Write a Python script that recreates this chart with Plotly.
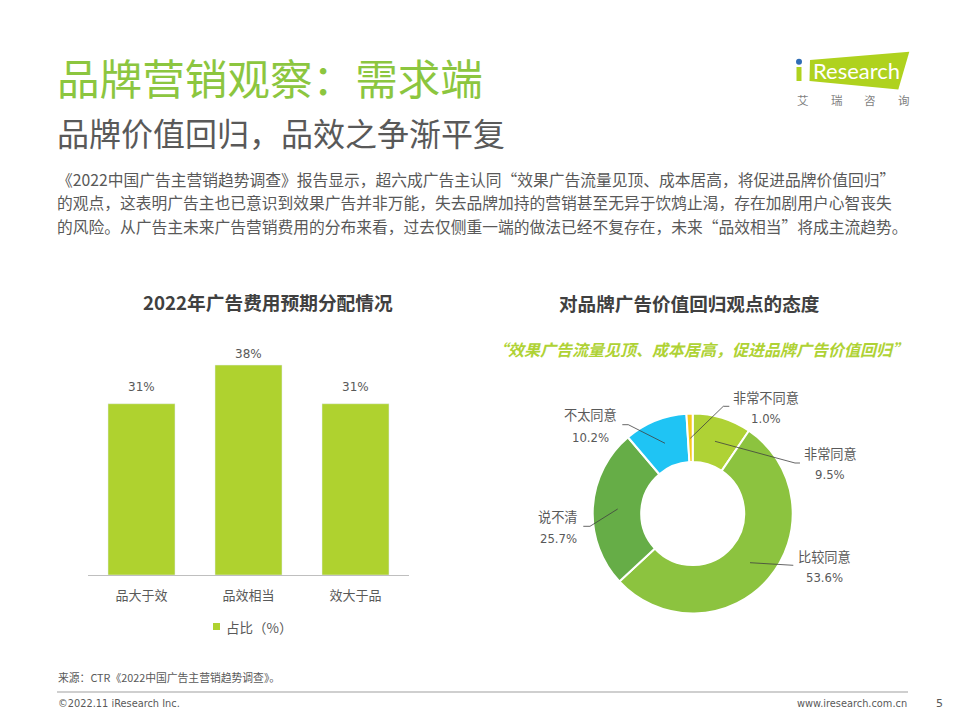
import plotly.graph_objects as go

FONT = "'DejaVu Sans','Noto Sans CJK SC',sans-serif"
CJK = "'Noto Sans CJK SC',sans-serif"
W, H = 960, 720

bar_categories = ["品大于效", "品效相当", "效大于品"]
bar_values = [31, 38, 31]
bar_series = "占比（%）"

pie_labels = ["非常同意", "比较同意", "说不清", "不太同意", "非常不同意"]
pie_values = [9.5, 53.6, 25.7, 10.2, 1.0]
pie_colors = ["#AFD235", "#8CC33F", "#66AD47", "#1FC4F4", "#F5C81E"]

title = "品牌营销观察：需求端"
subtitle = "品牌价值回归，品效之争渐平复"
body_lines = [
    "《2022中国广告主营销趋势调查》报告显示，超六成广告主认同“效果广告流量见顶、成本居高，将促进品牌价值回归”",
    "的观点，这表明广告主也已意识到效果广告并非万能，失去品牌加持的营销甚至无异于饮鸩止渴，存在加剧用户心智丧失",
    "的风险。从广告主未来广告营销费用的分布来看，过去仅侧重一端的做法已经不复存在，未来“品效相当”将成主流趋势。",
]
bar_title = "2022年广告费用预期分配情况"
pie_title = "对品牌广告价值回归观点的态度"
pie_quote = "“效果广告流量见顶、成本居高，促进品牌广告价值回归”"
source = "来源：CTR《2022中国广告主营销趋势调查》。"
copyright_text = "©2022.11 iResearch Inc."
site = "www.iresearch.com.cn"
page_no = "5"


def fx(x):
    return x / W


def fy(y):
    return 1 - y / H


fig = go.Figure()
fig.add_trace(go.Bar(
    x=bar_categories, y=bar_values, name=bar_series,
    marker_color="#AFD22F", width=0.626, showlegend=False,
))
fig.add_trace(go.Pie(
    labels=pie_labels, values=pie_values, sort=False, direction="clockwise",
    rotation=0, hole=0.515, textinfo="none", showlegend=False, hoverinfo="label+percent",
    marker=dict(colors=pie_colors, line=dict(color="white", width=2)),
    domain=dict(x=[fx(692.7 - 100), fx(692.7 + 100)], y=[fy(513.5 + 100), fy(513.5 - 100)]),
))


def note(x, y, text, size, color="#595959", anchor="left", family=CJK, **kw):
    fig.add_annotation(xref="paper", yref="paper", x=fx(x), y=fy(y), text=text, showarrow=False,
                       xanchor=anchor, yanchor="middle", align=anchor,
                       font=dict(size=size, color=color, family=family), borderpad=0, **kw)


def poly(points):
    return dict(type="path", xref="paper", yref="paper", line=dict(color="#404040", width=0.8),
                path="M " + " L ".join(f"{fx(x):.5f},{fy(y):.5f}" for x, y in points))


note(55.5, 77, title, 42.6, color="#8CC63F")
note(56, 132, subtitle, 32)
for y, line in zip([179, 202.5, 226], body_lines):
    note(56, y, line, 15.75)
note(268, 301.5, f"<b>{bar_title}</b>", 18.7, color="#404040", anchor="center")
note(689, 302.5, f"<b>{pie_title}</b>", 18.6, color="#404040", anchor="center")
note(700, 349, f"<b><i>{pie_quote}</i></b>", 16, color="#AFD235", anchor="center")

# bar value labels, placed through the bar chart's own axes
for cat, val, shift in zip(bar_categories, bar_values, [17, 11, 17]):
    fig.add_annotation(xref="x", yref="y", x=cat, y=val, text=f"{val}%", showarrow=False,
                       xanchor="center", yanchor="middle", yshift=shift,
                       font=dict(size=12, color="#595959", family=FONT))

label_pos = [(830, 453, 475), (824, 556, 578), (558, 516, 539), (590, 415, 438), (766, 397, 419)]
for (x, y1, y2), lab, val in zip(label_pos, pie_labels, pie_values):
    note(x, y1, lab, 13.2, anchor="center")
    note(x, y2, f"{val:.1f}%", 11.7, anchor="center", family=FONT)

note(225, 627, bar_series, 13.5)
note(57, 677, source, 10.8)
note(57, 703, copyright_text, 9.8, family=FONT)
note(908, 703, site, 9.8, anchor="right", family=FONT)
note(939, 703, page_no, 11, anchor="center", family=FONT)

# logo
note(812, 71, "Research", 22, color="white", family="Lato")
for x, ch in zip([802.7, 836.7, 870, 904], "艾瑞咨询"):
    note(x, 100, ch, 11.5, anchor="center", color="#7F7F7F")

shapes = [
    poly([(690.3, 438.3), (723.3, 406.3), (729.3, 406.3)]),
    poly([(715, 441.3), (795, 463), (800, 463)]),
    poly([(750, 562.7), (793.3, 565.3)]),
    poly([(617.7, 509), (590, 526.3), (583.3, 526.3)]),
    poly([(665, 443.3), (628.3, 424.7), (622.3, 424.7)]),
    dict(type="line", xref="paper", yref="paper", x0=fx(57), x1=fx(908), y0=fy(692), y1=fy(692),
         line=dict(color="#BFBFBF", width=1.5)),
    dict(type="rect", xref="paper", yref="paper", fillcolor="#AFD22F", line=dict(width=0),
         x0=fx(213), x1=fx(220), y0=fy(630), y1=fy(623)),
    dict(type="path", xref="paper", yref="paper", fillcolor="#AFD21E", line=dict(width=0), layer="below",
         path=f"M {fx(810)},{fy(60)} L {fx(909.3)},{fy(51.7)} L {fx(898.3)},{fy(89.5)} L {fx(809.5)},{fy(81)} Z"),
    dict(type="rect", xref="paper", yref="paper", fillcolor="#AFD21E", line=dict(width=0), layer="below",
         x0=fx(796.5), x1=fx(801.5), y0=fy(81), y1=fy(67)),
    dict(type="circle", xref="paper", yref="paper", fillcolor="#2F6DB5", line=dict(width=0),
         x0=fx(796), x1=fx(802), y0=fy(64.8), y1=fy(58.8)),
]

fig.update_layout(
    width=W, height=H, margin=dict(l=0, r=0, t=0, b=0),
    paper_bgcolor="white", plot_bgcolor="white",
    font=dict(family=FONT, color="#595959", size=12.5),
    shapes=shapes,
    bargap=0.374,
    xaxis=dict(domain=[fx(88), fx(409)], anchor="y", showline=True, linecolor="#BFBFBF", linewidth=1,
               ticks="", tickfont=dict(size=13, color="#595959", family=CJK), fixedrange=True,
               ticklabelstandoff=8),
    yaxis=dict(domain=[fy(575), fy(354)], range=[0, 40], visible=False, fixedrange=True),
    showlegend=False,
)
fig.write_html("out.html", config=dict(displayModeBar=False),
               post_script="document.body.style.margin='0';")
